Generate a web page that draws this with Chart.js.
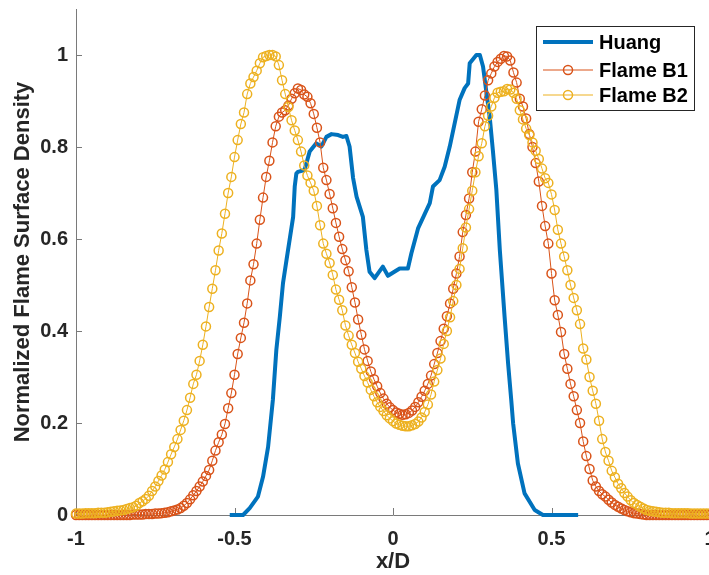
<!DOCTYPE html>
<html>
<head>
<meta charset="utf-8">
<title>Normalized Flame Surface Density</title>
<style>
  html, body { margin: 0; padding: 0; overflow: hidden; background: #ffffff; }
  canvas { display: block; }
</style>
<script src="https://cdn.jsdelivr.net/npm/chart.js@4/dist/chart.umd.min.js"></script>
</head>
<body>
<canvas id="chart" width="740" height="575"></canvas>
<script>
const FONT = '"Liberation Sans", Arial, Helvetica, sans-serif';

// Axis ticks
const xTicks = [-1, -0.5, 0, 0.5, 1];
const yTicks = [0, 0.2, 0.4, 0.6, 0.8, 1];

const seriesNames = ['Huang', 'Flame B1', 'Flame B2'];

// Huang measurement (x/D, normalized FSD)
const huangX = [-0.515, -0.473, -0.452, -0.426, -0.410, -0.394, -0.379, -0.368, -0.357, -0.347,
                -0.336, -0.315, -0.310, -0.305, -0.300, -0.279, -0.263, -0.242, -0.226, -0.210,
                -0.194, -0.173, -0.158, -0.147, -0.137, -0.126, -0.115, -0.095, -0.084, -0.074,
                -0.058, -0.032, -0.016, 0.021, 0.047, 0.058, 0.079, 0.116, 0.126, 0.147,
                0.163, 0.179, 0.210, 0.226, 0.237, 0.242, 0.263, 0.274, 0.284, 0.295,
                0.305, 0.315, 0.326, 0.337, 0.352, 0.363, 0.373, 0.379, 0.394, 0.415,
                0.447, 0.473, 0.584];
const huangY = [0, 0, 0.015, 0.040, 0.083, 0.148, 0.250, 0.359, 0.431, 0.504,
                0.554, 0.648, 0.714, 0.742, 0.746, 0.750, 0.790, 0.808, 0.801, 0.822,
                0.828, 0.826, 0.822, 0.824, 0.801, 0.733, 0.692, 0.648, 0.576, 0.529,
                0.515, 0.540, 0.520, 0.536, 0.536, 0.569, 0.623, 0.678, 0.714, 0.728,
                0.757, 0.801, 0.902, 0.928, 0.938, 0.982, 1.000, 1.000, 0.975, 0.917,
                0.866, 0.793, 0.707, 0.576, 0.431, 0.330, 0.250, 0.199, 0.112, 0.047,
                0.011, 0, 0];

// Flame B1 / B2 are sampled on a uniform x/D grid, step 0.01 from -1 to 1
const flameX = [];
for (let i = 0; i <= 200; i++) flameX.push(Math.round(-100 + i) / 100);

const flameB1 = [
  0, 0, 0, 0, 0, 0, 0, 0, 0, 0,                                             // -1.00 .. -0.91
  0, 0, 0, 0, 0, 0, 0, 0, 0.001, 0.001,                                     // -0.90 .. -0.81
  0.001, 0.001, 0.002, 0.002, 0.002, 0.003, 0.003, 0.004, 0.005, 0.006,     // -0.80 .. -0.71
  0.008, 0.010, 0.012, 0.015, 0.020, 0.026, 0.034, 0.043, 0.052, 0.062,     // -0.70 .. -0.61
  0.073, 0.085, 0.098, 0.118, 0.140, 0.158, 0.175, 0.198, 0.232, 0.265,     // -0.60 .. -0.51
  0.305, 0.350, 0.385, 0.418, 0.460, 0.510, 0.545, 0.590, 0.642, 0.690,     // -0.50 .. -0.41
  0.735, 0.770, 0.810, 0.845, 0.866, 0.875, 0.880, 0.890, 0.905, 0.917,     // -0.40 .. -0.31
  0.927, 0.924, 0.914, 0.909, 0.895, 0.872, 0.842, 0.810, 0.755, 0.728,     // -0.30 .. -0.21
  0.698, 0.667, 0.635, 0.605, 0.578, 0.554, 0.530, 0.495, 0.462, 0.425,     // -0.20 .. -0.11
  0.392, 0.360, 0.335, 0.312, 0.295, 0.280, 0.265, 0.253, 0.242, 0.234,     // -0.10 .. -0.01
  0.228, 0.223, 0.220, 0.218, 0.219, 0.222, 0.227, 0.235, 0.245, 0.257,     //  0.00 ..  0.09
  0.270, 0.285, 0.303, 0.328, 0.352, 0.378, 0.405, 0.432, 0.460, 0.492,     //  0.10 ..  0.19
  0.525, 0.562, 0.615, 0.652, 0.688, 0.745, 0.790, 0.855, 0.882, 0.912,     //  0.20 ..  0.29
  0.945, 0.960, 0.975, 0.985, 0.992, 0.998, 0.997, 0.988, 0.962, 0.940,     //  0.30 ..  0.39
  0.905, 0.888, 0.862, 0.828, 0.800, 0.765, 0.725, 0.672, 0.628, 0.590,     //  0.40 ..  0.49
  0.525, 0.467, 0.435, 0.398, 0.350, 0.318, 0.285, 0.258, 0.228, 0.200,     //  0.50 ..  0.59
  0.160, 0.128, 0.100, 0.075, 0.062, 0.052, 0.045, 0.040, 0.033, 0.027,     //  0.60 ..  0.69
  0.022, 0.018, 0.014, 0.011, 0.008, 0.006, 0.004, 0.003, 0.002, 0.001,     //  0.70 ..  0.79
  0, 0, 0, 0, 0, 0, 0, 0, 0, 0,                                             //  0.80 ..  0.89
  0, 0, 0, 0, 0, 0, 0, 0, 0, 0,                                             //  0.90 ..  0.99
  0                                                                         //  1.00
];

const flameB2 = [
  0.003, 0.003, 0.003, 0.004, 0.004, 0.004, 0.004, 0.005, 0.005, 0.005,     // -1.00 .. -0.91
  0.006, 0.007, 0.008, 0.009, 0.010, 0.011, 0.013, 0.015, 0.017, 0.020,     // -0.90 .. -0.81
  0.026, 0.030, 0.035, 0.042, 0.052, 0.062, 0.074, 0.086, 0.099, 0.115,     // -0.80 .. -0.71
  0.132, 0.148, 0.165, 0.185, 0.205, 0.228, 0.255, 0.285, 0.305, 0.335,     // -0.70 .. -0.61
  0.370, 0.410, 0.452, 0.492, 0.532, 0.575, 0.612, 0.655, 0.700, 0.735,     // -0.60 .. -0.51
  0.778, 0.815, 0.850, 0.875, 0.915, 0.938, 0.952, 0.966, 0.982, 0.995,     // -0.50 .. -0.41
  0.998, 1.000, 1.000, 0.997, 0.978, 0.945, 0.915, 0.887, 0.858, 0.836,     // -0.40 .. -0.31
  0.815, 0.790, 0.760, 0.738, 0.722, 0.705, 0.672, 0.630, 0.590, 0.568,     // -0.30 .. -0.21
  0.548, 0.522, 0.490, 0.468, 0.445, 0.412, 0.390, 0.370, 0.352, 0.333,     // -0.20 .. -0.11
  0.318, 0.302, 0.288, 0.272, 0.258, 0.245, 0.235, 0.226, 0.217, 0.210,     // -0.10 .. -0.01
  0.204, 0.199, 0.196, 0.194, 0.193, 0.193, 0.195, 0.198, 0.203, 0.212,     //  0.00 ..  0.09
  0.224, 0.240, 0.262, 0.290, 0.315, 0.340, 0.372, 0.400, 0.430, 0.465,     //  0.10 ..  0.19
  0.500, 0.535, 0.580, 0.625, 0.665, 0.705, 0.745, 0.780, 0.808, 0.845,     //  0.20 ..  0.29
  0.868, 0.888, 0.907, 0.918, 0.920, 0.921, 0.926, 0.925, 0.918, 0.905,     //  0.30 ..  0.39
  0.880, 0.860, 0.840, 0.826, 0.810, 0.792, 0.774, 0.753, 0.732, 0.722,     //  0.40 ..  0.49
  0.697, 0.663, 0.620, 0.590, 0.562, 0.532, 0.500, 0.472, 0.445, 0.415,     //  0.50 ..  0.59
  0.362, 0.338, 0.300, 0.270, 0.242, 0.205, 0.165, 0.137, 0.118, 0.096,     //  0.60 ..  0.69
  0.082, 0.068, 0.058, 0.048, 0.040, 0.032, 0.026, 0.022, 0.018, 0.014,     //  0.70 ..  0.79
  0.011, 0.009, 0.008, 0.007, 0.006, 0.005, 0.005, 0.005, 0.004, 0.004,     //  0.80 ..  0.89
  0.004, 0.004, 0.004, 0.004, 0.003, 0.003, 0.003, 0.003, 0.003, 0.003,     //  0.90 ..  0.99
  0.003                                                                     //  1.00
];

const toPoints = (xs, ys) => xs.map((x, i) => ({ x: x, y: ys[i] }));

// Inward tick marks on the left and bottom axes
const inwardTicks = {
  id: 'inwardTicks',
  beforeDatasetsDraw(chart) {
    const { ctx, chartArea: a, scales: { x, y } } = chart;
    ctx.save();
    ctx.strokeStyle = '#7a7a7a';
    ctx.lineWidth = 1;
    ctx.beginPath();
    xTicks.forEach(v => {
      const px = Math.round(x.getPixelForValue(v)) + 0.5;
      ctx.moveTo(px, a.bottom);
      ctx.lineTo(px, a.bottom - 7);
    });
    yTicks.forEach(v => {
      const py = Math.round(y.getPixelForValue(v)) + 0.5;
      ctx.moveTo(a.left, py);
      ctx.lineTo(a.left + 6, py);
    });
    ctx.stroke();
    ctx.restore();
  }
};

// Boxed legend in the upper right corner
const boxedLegend = {
  id: 'boxedLegend',
  afterDraw(chart) {
    const { ctx } = chart;
    const bx = 536.5, by = 26.5, bw = 158, bh = 84;
    const rows = [42, 70, 95];
    ctx.save();
    ctx.fillStyle = '#ffffff';
    ctx.fillRect(bx, by, bw, bh);
    ctx.strokeStyle = '#262626';
    ctx.lineWidth = 1;
    ctx.strokeRect(bx, by, bw, bh);
    chart.data.datasets.forEach((ds, i) => {
      const ly = rows[i];
      ctx.strokeStyle = ds.borderColor;
      ctx.lineWidth = ds.borderWidth;
      ctx.beginPath();
      ctx.moveTo(543, ly);
      ctx.lineTo(593, ly);
      ctx.stroke();
      if (ds.pointRadius > 0) {
        ctx.lineWidth = ds.pointBorderWidth;
        ctx.beginPath();
        ctx.arc(568, ly, ds.pointRadius, 0, Math.PI * 2);
        ctx.stroke();
      }
      ctx.fillStyle = '#000000';
      ctx.font = 'bold 20px ' + FONT;
      ctx.textBaseline = 'middle';
      ctx.textAlign = 'left';
      ctx.fillText(ds.label, 599, ly + 1);
    });
    ctx.restore();
  }
};

const tickFont = { family: FONT, size: 20, weight: 'bold' };
const titleFont = { family: FONT, size: 22, weight: 'bold' };

new Chart(document.getElementById('chart'), {
  type: 'line',
  data: {
    datasets: [
      {
        label: seriesNames[0],
        data: toPoints(huangX, huangY),
        borderColor: '#0072BD',
        borderWidth: 4,
        pointRadius: 0,
        borderJoinStyle: 'round',
        borderCapStyle: 'butt',
        clip: false,
        order: 2
      },
      {
        label: seriesNames[1],
        data: toPoints(flameX, flameB1),
        borderColor: '#D95319',
        borderWidth: 1,
        pointRadius: 4.5,
        pointBorderWidth: 1.5,
        pointBorderColor: '#D95319',
        pointBackgroundColor: 'rgba(0,0,0,0)',
        clip: false,
        order: 1
      },
      {
        label: seriesNames[2],
        data: toPoints(flameX, flameB2),
        borderColor: '#EDB120',
        borderWidth: 1,
        pointRadius: 4.5,
        pointBorderWidth: 1.5,
        pointBorderColor: '#EDB120',
        pointBackgroundColor: 'rgba(0,0,0,0)',
        clip: false,
        order: 0
      }
    ]
  },
  options: {
    responsive: false,
    animation: false,
    devicePixelRatio: 1,
    layout: { padding: { top: 9, right: 30, bottom: 0, left: 0 } },
    elements: { line: { tension: 0 }, point: { hitRadius: 0, hoverRadius: 0 } },
    plugins: { legend: { display: false }, tooltip: { enabled: false } },
    events: [],
    scales: {
      x: {
        type: 'linear',
        min: -1,
        max: 1,
        afterBuildTicks: s => { s.ticks = xTicks.map(v => ({ value: v })); },
        afterFit: s => { s.height = 60; s.paddingLeft = 0; s.paddingRight = 0; },
        grid: { display: false, drawTicks: false },
        border: { display: true, color: '#7a7a7a', width: 1 },
        ticks: {
          color: '#262626', font: tickFont, padding: 12,
          autoSkip: false, maxRotation: 0, callback: v => String(v)
        },
        title: {
          display: true, text: 'x/D', color: '#262626', font: titleFont,
          padding: { top: 0, bottom: 0 }
        }
      },
      y: {
        type: 'linear',
        min: 0,
        max: 1.1,
        afterBuildTicks: s => { s.ticks = yTicks.map(v => ({ value: v })); },
        afterFit: s => { s.width = 76; s.paddingTop = 0; s.paddingBottom = 0; },
        grid: { display: false, drawTicks: false },
        border: { display: true, color: '#7a7a7a', width: 1 },
        ticks: {
          color: '#262626', font: tickFont, padding: 8,
          autoSkip: false, callback: v => String(v)
        },
        title: {
          display: true, text: 'Normalized Flame Surface Density', color: '#262626', font: titleFont,
          padding: { top: 10, bottom: 0 }
        }
      }
    }
  },
  plugins: [inwardTicks, boxedLegend]
});
</script>
</body>
</html>
